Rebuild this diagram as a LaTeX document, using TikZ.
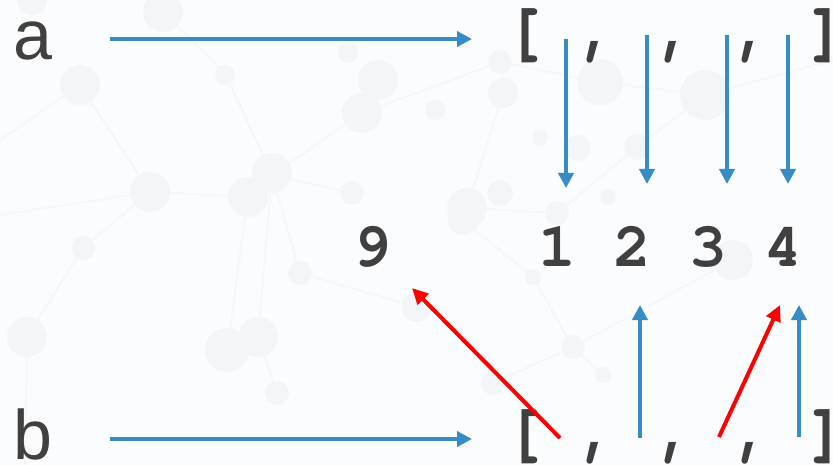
\documentclass[tikz,border=0pt]{standalone}
\usepackage{fontspec}
\usetikzlibrary{arrows.meta}
\newfontfamily\sansf{Liberation Sans}
\newfontfamily\monof{TeX Gyre Cursor}
\definecolor{txt}{RGB}{64,64,64}
\definecolor{arrblue}{RGB}{55,140,195}
\definecolor{arrred}{RGB}{255,0,0}
\definecolor{bgfill}{RGB}{251,252,253}
\definecolor{bgcirc}{RGB}{243,246,248}
\definecolor{bgline}{RGB}{246,247,249}
\tikzset{
  lbl/.style={font=\sansf\fontsize{70}{80}\selectfont, text=txt, inner sep=0pt, anchor=base west},
  mono/.style={font=\monof\bfseries\fontsize{63}{70}\selectfont, text=txt, inner sep=0pt, anchor=base},
  brk/.style={mono, font=\monof\bfseries\fontsize{70}{78}\selectfont},
  bluearrow/.style={draw=arrblue, line width=4.3pt, -{Triangle[length=15pt,width=15pt]}},
  redarrow/.style={draw=arrred, line width=4pt, -{Triangle[length=16pt,width=15pt]}},
  bgc/.style={fill=bgcirc, draw=none},
  bgl/.style={draw=bgline, line width=2pt}
}
\begin{document}
\begin{tikzpicture}[x=1pt,y=-1pt]
\useasboundingbox (0,0) rectangle (833,465);
\fill[bgfill] (0,0) rectangle (833,465);
% faint background network
\draw[bgl] (0,140) -- (80,85) -- (150,192) -- (248,197) -- (272,175) -- (362,113) -- (378,82);
\draw[bgl] (272,175) -- (225,73) -- (163,12);
\draw[bgl] (272,175) -- (352,193);
\draw[bgl] (150,192) -- (83,248) -- (27,337) -- (25,465);
\draw[bgl] (272,175) -- (258,337) -- (277,393);
\draw[bgl] (248,197) -- (227,350);
\draw[bgl] (272,175) -- (300,273) -- (417,307);
\draw[bgl] (362,113) -- (500,62) -- (600,82) -- (705,95) -- (833,60);
\draw[bgl] (503,93) -- (467,208) -- (557,213) -- (637,147) -- (705,95);
\draw[bgl] (463,220) -- (533,277) -- (573,347) -- (603,375);
\draw[bgl] (493,383) -- (573,347) -- (733,260);
\draw[bgl] (150,192) -- (0,215);
\foreach \x/\y/\r in {32/0/15,163/12/20,80/85/20,225/75/10,378/80/20,362/113/20,348/53/10,
  150/192/20,272/173/20,248/197/20,352/193/12,83/248/12,300/273/12,27/337/20,258/337/20,
  227/350/22,277/393/12,600/82/23,705/95/25,500/62/12,503/93/15,435/110/10,540/138/8,
  578/148/13,637/147/13,467/208/20,500/193/13,608/197/8,557/213/12,463/220/15,573/347/12,
  603/375/8,493/383/12,533/277/8,733/260/20,417/307/15}
  \fill[bgc] (\x,\y) circle (\r);
% labels
\node[lbl] (a) at (13,60) {a};
\node[lbl] (b) at (13,459) {b};
% top row
\node[brk] (tl) at (525,53) {[};
\node[mono] (tc1) at (597,52) {,};
\node[mono] (tc2) at (675,52) {,};
\node[mono] (tc3) at (752,52) {,};
\node[brk] (tr) at (826,53) {]};
% bottom row
\node[brk] (bl) at (525,453) {[};
\node[mono] (bc1) at (597,452) {,};
\node[mono] (bc2) at (675,452) {,};
\node[mono] (bc3) at (752,452) {,};
\node[brk] (br) at (826,453) {]};
% digits
\node[mono] (d9) at (372,267) {9};
\node[mono] (d1) at (557,267) {1};
\node[mono] (d2) at (632,267) {2};
\node[mono] (d3) at (708,267) {3};
\node[mono] (d4) at (783,267) {4};
% connector ends
\coordinate (aS) at (110,39);
\coordinate (aE) at (472,39);
\coordinate (bS) at (110,439);
\coordinate (bE) at (472,439);
\coordinate (t1) at (566,39);  \coordinate (e1) at (566,188);
\coordinate (t2) at (647,35);  \coordinate (e2) at (647,184);
\coordinate (t3) at (727,35);  \coordinate (e3) at (727,184);
\coordinate (t4) at (788,35);  \coordinate (e4) at (788,184);
\coordinate (u2s) at (640,438); \coordinate (u2e) at (640,305);
\coordinate (u4s) at (799,437); \coordinate (u4e) at (799,305);
\coordinate (r9s) at (560,438); \coordinate (r9e) at (412,288);
\coordinate (r4s) at (719,437); \coordinate (r4e) at (780,305);
% arrows
\draw[bluearrow] (aS) -- (aE);
\draw[bluearrow] (bS) -- (bE);
\draw[bluearrow] (t1) -- (e1);
\draw[bluearrow] (t2) -- (e2);
\draw[bluearrow] (t3) -- (e3);
\draw[bluearrow] (t4) -- (e4);
\draw[bluearrow] (u2s) -- (u2e);
\draw[bluearrow] (u4s) -- (u4e);
\draw[redarrow] (r9s) -- (r9e);
\draw[redarrow] (r4s) -- (r4e);
\end{tikzpicture}
\end{document}
